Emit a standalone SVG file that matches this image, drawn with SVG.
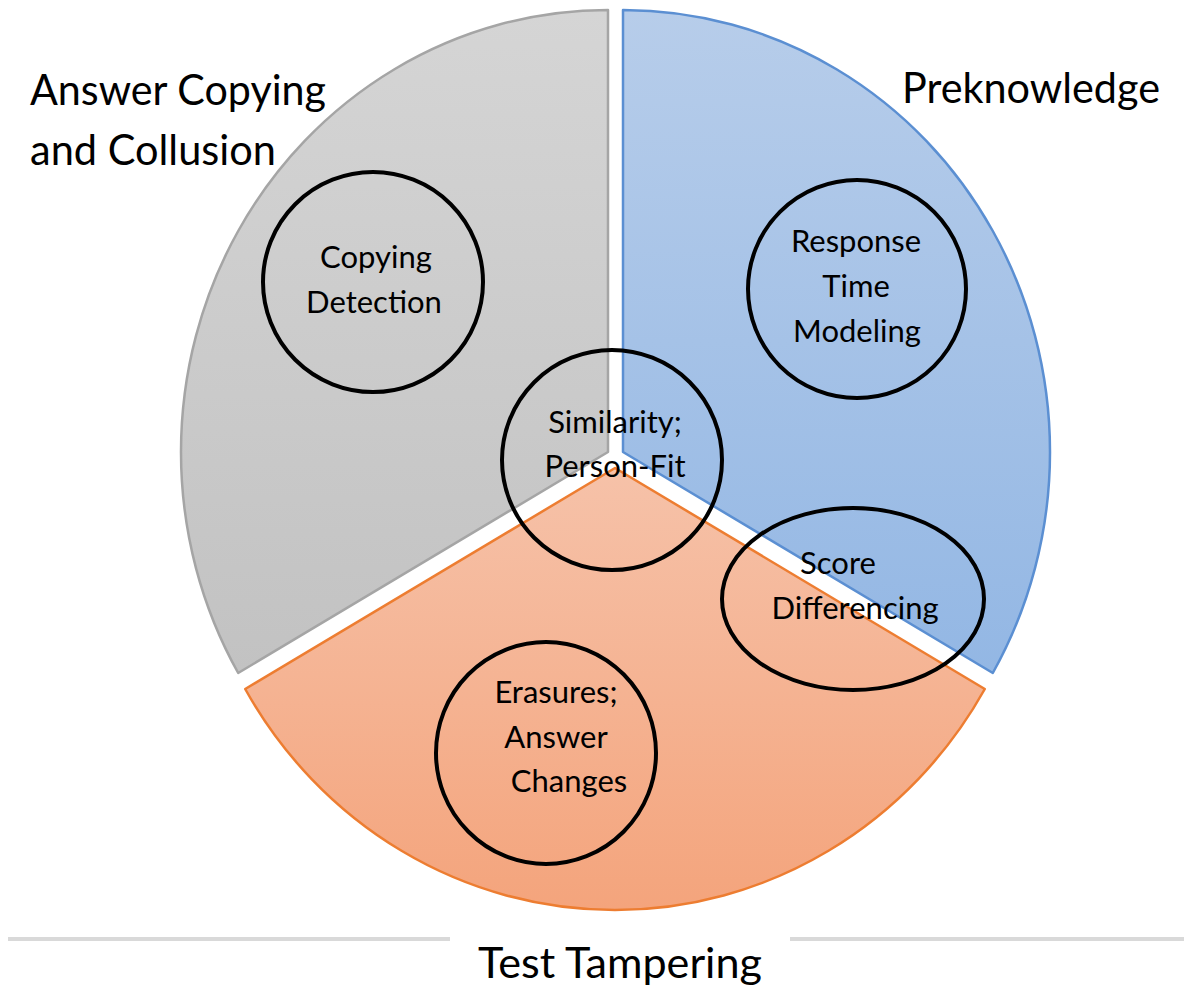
<svg xmlns="http://www.w3.org/2000/svg" width="1184" height="995" viewBox="0 0 1184 995">
<style>
.big{font-family:Lato,"Open Sans",sans-serif;font-size:42px;fill:#000}
.small{font-family:Lato,"Open Sans",sans-serif;font-size:31px;fill:#000;text-anchor:middle}
.ring{fill:none;stroke:#000;stroke-width:4}
.sep{stroke:#d9d9d9;stroke-width:4}
</style>
<defs>
<linearGradient id="gGray" x1="0" y1="0" x2="0" y2="1"><stop offset="0" stop-color="#d5d5d5"/><stop offset="1" stop-color="#c2c2c2"/></linearGradient>
<linearGradient id="gBlue" x1="0" y1="0" x2="0" y2="1"><stop offset="0" stop-color="#b7cdea"/><stop offset="1" stop-color="#93b7e4"/></linearGradient>
<linearGradient id="gOrange" x1="0" y1="0" x2="0" y2="1"><stop offset="0" stop-color="#f6c2a9"/><stop offset="1" stop-color="#f4a47c"/></linearGradient>
</defs>
<rect width="1184" height="995" fill="#fff"/>
<g id="sector-copying">
<path d="M608,452 L608,10 A427,442 0 0 0 238.2,673 Z" fill="url(#gGray)" stroke="#a5a5a5" stroke-width="2.5" stroke-linejoin="round"/>
</g>
<g id="sector-preknowledge">
<path d="M623,452 L623,10 A427,442 0 0 1 992.8,673 Z" fill="url(#gBlue)" stroke="#5b8fd2" stroke-width="2.5" stroke-linejoin="round"/>
</g>
<g id="sector-tampering">
<path d="M615,468 L245.2,689 A427,442 0 0 0 984.8,689 Z" fill="url(#gOrange)" stroke="#ed7d31" stroke-width="2.5" stroke-linejoin="round"/>
</g>
<g id="label-copying">
<text class="big" x="30" y="105" textLength="296" lengthAdjust="spacingAndGlyphs">Answer Copying</text>
<text class="big" x="30" y="165" textLength="246" lengthAdjust="spacingAndGlyphs">and Collusion</text>
</g>
<g id="label-preknowledge">
<text class="big" x="902" y="103" textLength="258" lengthAdjust="spacingAndGlyphs">Preknowledge</text>
</g>
<g id="label-tampering">
<line class="sep" x1="8" y1="939" x2="450" y2="939"/>
<line class="sep" x1="790" y1="939" x2="1184" y2="939"/>
<text class="big" x="478" y="978" textLength="284" lengthAdjust="spacingAndGlyphs">Test Tampering</text>
</g>
<g id="node-copying-detection">
<circle class="ring" cx="373" cy="282" r="110"/>
<text class="small" x="376" y="268">Copying</text>
<text class="small" x="374" y="313">Detection</text>
</g>
<g id="node-response-time">
<circle class="ring" cx="857" cy="289" r="109"/>
<text class="small" x="856" y="252">Response</text>
<text class="small" x="856" y="297">Time</text>
<text class="small" x="857" y="342">Modeling</text>
</g>
<g id="node-similarity">
<circle class="ring" cx="612" cy="460" r="110"/>
<text class="small" x="615" y="433">Similarity;</text>
<text class="small" x="615" y="477">Person-Fit</text>
</g>
<g id="node-score-differencing">
<ellipse class="ring" cx="853" cy="599" rx="131" ry="91"/>
<text class="small" x="838" y="574">Score</text>
<text class="small" x="855" y="619">Differencing</text>
</g>
<g id="node-erasures">
<ellipse class="ring" cx="546" cy="753" rx="110" ry="111"/>
<text class="small" x="556" y="703">Erasures;</text>
<text class="small" x="556" y="748">Answer</text>
<text class="small" x="569" y="792">Changes</text>
</g>
</svg>
